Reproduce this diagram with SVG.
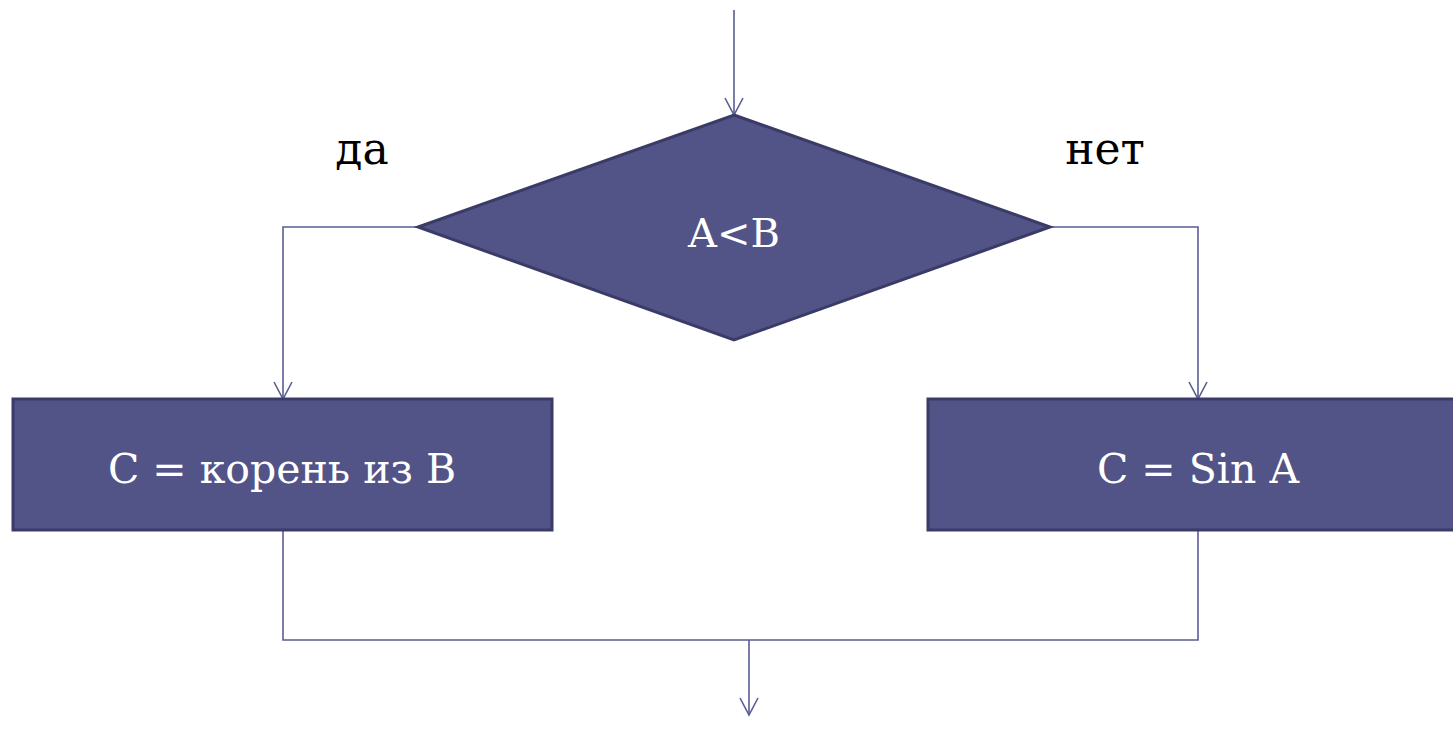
<svg xmlns="http://www.w3.org/2000/svg" width="1453" height="742" viewBox="0 0 1453 742">
<style>
.node{fill:#525487;stroke:#3a3b66;stroke-width:3}
.lbl{font-family:"DejaVu Serif","Liberation Serif",serif;fill:#ffffff;text-anchor:middle}
.edge{fill:none;stroke:#5a5c94;stroke-width:1.6}
.yn{font-family:"DejaVu Serif","Liberation Serif",serif;fill:#000;font-size:44px;text-anchor:middle}
</style>
<defs>
<marker id="arr" viewBox="0 0 20 20" refX="18" refY="10" markerWidth="20" markerHeight="20" markerUnits="userSpaceOnUse" orient="auto">
<path d="M1,1 L18,10 L1,19" fill="none" stroke="#5a5c94" stroke-width="1.6"/>
</marker>
</defs>
<rect width="1453" height="742" fill="#ffffff"/>
<g id="connectors">
<line class="edge" x1="734" y1="10" x2="734" y2="115" marker-end="url(#arr)"/>
<polyline class="edge" points="418,227 283,227 283,399" marker-end="url(#arr)"/>
<polyline class="edge" points="1050,227 1198,227 1198,399" marker-end="url(#arr)"/>
<polyline class="edge" points="283,530 283,640 1198,640 1198,530"/>
<line class="edge" x1="749" y1="640" x2="749" y2="715" marker-end="url(#arr)"/>
</g>
<g id="decision">
<polygon class="node" points="734,115 1050,227 734,340 418,227"/>
<text class="lbl" x="734" y="247" font-size="40">A&lt;B</text>
</g>
<g id="yes-box">
<rect class="node" x="13" y="399" width="539" height="131"/>
<text class="lbl" x="282" y="483" font-size="41">C = корень из B</text>
</g>
<g id="no-box">
<rect class="node" x="928" y="399" width="540" height="131"/>
<text class="lbl" x="1198" y="483" font-size="41">C = Sin A</text>
</g>
<g id="labels">
<text class="yn" x="362" y="164">да</text>
<text class="yn" x="1105" y="164">нет</text>
</g>
</svg>
